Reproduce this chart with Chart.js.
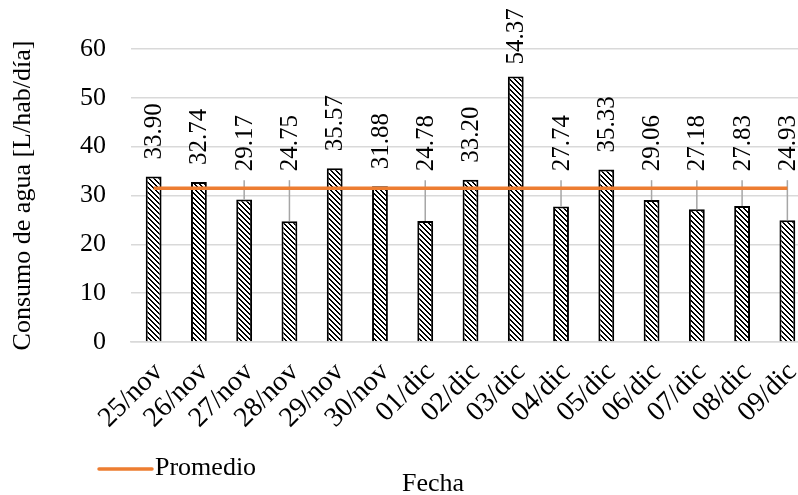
<!DOCTYPE html>
<html lang="es">
<head>
<meta charset="utf-8">
<title>Consumo de agua</title>
<script src="https://cdn.jsdelivr.net/npm/chart.js@4.4.1/dist/chart.umd.min.js"></script>
<style>
  html, body { margin: 0; padding: 0; background: #ffffff; overflow: hidden; }
  #wrap { width: 798px; height: 495px; overflow: hidden; position: relative; }
  #grafico { display: block; }
</style>
</head>
<body>
<div id="wrap"><canvas id="grafico" width="810" height="495"></canvas></div>
<script>
// Fechas de medición
const fechas = ['25/nov', '26/nov', '27/nov', '28/nov', '29/nov', '30/nov', '01/dic',
  '02/dic', '03/dic', '04/dic', '05/dic', '06/dic', '07/dic', '08/dic', '09/dic'];

// Consumo diario [L/hab/día]
const consumo = [33.90, 32.74, 29.17, 24.75, 35.57, 31.88, 24.78,
  33.20, 54.37, 27.74, 35.33, 29.06, 27.18, 27.83, 24.93];

// Consumo promedio del periodo
const promedio = [31.50, 31.50, 31.50, 31.50, 31.50, 31.50, 31.50,
  31.50, 31.50, 31.50, 31.50, 31.50, 31.50, 31.50, 31.50];

// Marcas del eje Y
const marcasY = [0, 10, 20, 30, 40, 50, 60];

const FUENTE = '"Liberation Serif", "Times New Roman", serif';
const NARANJA = '#ED7D31';
const GRIS_GUIA = '#A6A6A6';
const GRIS_REJILLA = '#D9D9D9';

// Trama diagonal para el relleno de las barras
function crearTrama() {
  const n = 5;
  const c = document.createElement('canvas');
  c.width = n; c.height = n;
  const g = c.getContext('2d');
  g.fillStyle = '#ffffff';
  g.fillRect(0, 0, n, n);
  g.fillStyle = '#000000';
  for (let y = 0; y < n; y++) {
    for (let x = 0; x < n; x++) {
      const d = ((x - y) % n + n) % n;
      if (d === 0 || d === 1) g.fillRect(x, y, 1, 1);
    }
  }
  return g.createPattern(c, 'repeat');
}

const ctx = document.getElementById('grafico').getContext('2d');
const trama = crearTrama();

// Líneas guía (detrás de la línea de promedio) y etiquetas de valor
const etiquetasValor = {
  id: 'etiquetasValor',
  afterDatasetDraw(chart, args) {
    if (args.index !== 0) return;
    const esc = chart.scales.y;
    const meta = chart.getDatasetMeta(0);
    const c = chart.ctx;
    c.save();
    c.strokeStyle = GRIS_GUIA;
    c.lineWidth = 1.5;
    meta.data.forEach((barra, i) => {
      const v = consumo[i];
      const ref = promedio[i];
      if (v >= ref) return;
      const inicioTexto = esc.getPixelForValue(ref) - 17;
      c.beginPath();
      c.moveTo(barra.x, inicioTexto + 9);
      c.lineTo(barra.x, barra.y);
      c.stroke();
    });
    c.restore();
  },
  afterDatasetsDraw(chart) {
    const esc = chart.scales.y;
    const meta = chart.getDatasetMeta(0);
    const c = chart.ctx;
    c.save();
    c.fillStyle = '#000000';
    c.font = '25px ' + FUENTE;
    c.textAlign = 'left';
    c.textBaseline = 'middle';
    meta.data.forEach((barra, i) => {
      const v = consumo[i];
      const ancla = esc.getPixelForValue(Math.max(v, promedio[i]));
      const inicioTexto = ancla - (v > 50 ? 12 : 17);
      c.save();
      c.translate(barra.x + 1, inicioTexto);
      c.rotate(-Math.PI / 2);
      c.fillText(v.toFixed(2), 0, 0);
      c.restore();
    });
    c.restore();
  }
};

// Leyenda y título del eje X en la parte inferior
const pie = {
  id: 'pie',
  afterDraw(chart) {
    const c = chart.ctx;
    c.save();
    c.strokeStyle = NARANJA;
    c.lineWidth = 3.5;
    c.lineCap = 'round';
    c.beginPath();
    c.moveTo(99, 469);
    c.lineTo(152, 469);
    c.stroke();
    c.fillStyle = '#000000';
    c.font = '26px ' + FUENTE;
    c.textBaseline = 'middle';
    c.textAlign = 'left';
    c.fillText(chart.data.datasets[1].label, 155, 468);
    c.textAlign = 'center';
    c.fillText('Fecha', 433, 484);
    c.restore();
  }
};

new Chart(ctx, {
  data: {
    labels: fechas,
    datasets: [
      {
        type: 'bar',
        label: 'Consumo',
        data: consumo,
        backgroundColor: trama,
        borderColor: '#000000',
        borderWidth: 2,
        barPercentage: 0.35,
        categoryPercentage: 1.0,
        order: 2
      },
      {
        type: 'line',
        label: 'Promedio',
        data: promedio,
        borderColor: NARANJA,
        borderWidth: 3.5,
        pointRadius: 0,
        fill: false,
        order: 1
      }
    ]
  },
  options: {
    responsive: false,
    animation: false,
    devicePixelRatio: 1,
    layout: { padding: { top: 49, right: 0, bottom: 0, left: 0 } },
    plugins: {
      legend: { display: false },
      tooltip: { enabled: false }
    },
    scales: {
      x: {
        grid: { display: false, drawTicks: false },
        border: { display: true, color: GRIS_REJILLA, width: 1.5 },
        ticks: {
          color: '#000000',
          font: { family: FUENTE, size: 28 },
          minRotation: 45,
          maxRotation: 45,
          padding: 14,
          labelOffset: 5,
          autoSkip: false
        },
        afterFit(scale) {
          scale.height = 153;
          scale.paddingLeft = 0;
          scale.paddingRight = 0;
        }
      },
      y: {
        min: 0,
        max: 60,
        afterBuildTicks(scale) { scale.ticks = marcasY.map(v => ({ value: v })); },
        grid: { color: GRIS_REJILLA, lineWidth: 1.5, drawTicks: false },
        border: { display: false },
        ticks: {
          color: '#000000',
          font: { family: FUENTE, size: 26 },
          padding: 25
        },
        title: {
          display: true,
          text: 'Consumo de agua [L/hab/día]',
          color: '#000000',
          font: { family: FUENTE, size: 26 },
          padding: { top: 8, bottom: 0 }
        },
        afterFit(scale) {
          scale.width = 131;
          scale.paddingTop = 0;
          scale.paddingBottom = 0;
        }
      }
    }
  },
  plugins: [etiquetasValor, pie]
});
</script>
</body>
</html>
